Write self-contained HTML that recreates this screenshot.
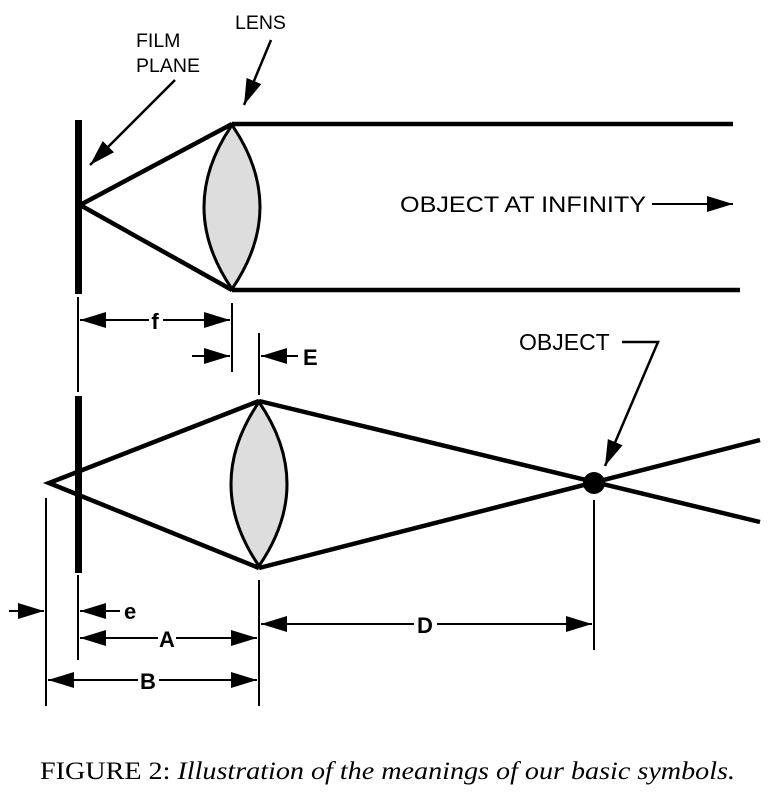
<!DOCTYPE html>
<html><head><style>body{margin:0;background:#fff}svg{display:block}</style></head><body>
<svg width="776" height="793" viewBox="0 0 776 793" xmlns="http://www.w3.org/2000/svg">
<defs>
<marker id="a" markerWidth="28" markerHeight="18" refX="26" refY="8" orient="auto" markerUnits="userSpaceOnUse"><path d="M0,0 L26,8 L0,16Z" fill="#000"/></marker>
</defs>
<g font-family="Liberation Sans, sans-serif" fill="#000">
<!-- top diagram -->
<rect x="75" y="120" width="7" height="174"/>
<g stroke="#000" stroke-width="4.5" fill="none">
<polyline points="232,124 80,205 232,290"/>
<line x1="232" y1="124" x2="733" y2="124"/>
<line x1="232" y1="290" x2="740" y2="290"/>
</g>
<path d="M232,125 Q176,207 232,289 Q288,207 232,125Z" fill="#ddd" stroke="#000" stroke-width="3"/>
<text x="136" y="47" font-size="19.5">FILM</text>
<text x="136" y="72" font-size="19.5">PLANE</text>
<text x="235" y="29" font-size="19.5">LENS</text>
<text x="400" y="212" font-size="22" textLength="246" lengthAdjust="spacingAndGlyphs">OBJECT AT INFINITY</text>
<g stroke="#000" stroke-width="2" fill="none">
<line x1="175" y1="80" x2="90" y2="165" marker-end="url(#a)" stroke-width="2.5"/>
<line x1="271" y1="40" x2="244" y2="105" marker-end="url(#a)" stroke-width="2.5"/>
<line x1="652" y1="204" x2="733" y2="204" marker-end="url(#a)"/>
<!-- f -->
<line x1="78" y1="297" x2="78" y2="392"/>
<line x1="232" y1="303" x2="232" y2="372"/>
<line x1="149" y1="320" x2="80" y2="320" marker-end="url(#a)"/>
<line x1="163" y1="320" x2="230" y2="320" marker-end="url(#a)"/>
<!-- E -->
<line x1="192" y1="356" x2="230" y2="356" marker-end="url(#a)"/>
<line x1="259" y1="333" x2="259" y2="395"/>
<line x1="298" y1="356" x2="261" y2="356" marker-end="url(#a)"/>
</g>
<text x="155" y="329" font-size="22" font-weight="bold" text-anchor="middle">f</text>
<text x="303" y="365" font-size="22" font-weight="bold">E</text>
<!-- bottom diagram -->
<rect x="75" y="396" width="7" height="177"/>
<g stroke="#000" stroke-width="4.5" fill="none">
<polyline points="259,401 49,483 259,568"/>
<line x1="259" y1="401" x2="760" y2="522"/>
<line x1="259" y1="568" x2="760" y2="440"/>
</g>
<path d="M259,402 Q203,484 259,566 Q315,484 259,402Z" fill="#ddd" stroke="#000" stroke-width="3"/>
<circle cx="594" cy="483" r="11"/>
<text x="519" y="350" font-size="23">OBJECT</text>
<g stroke="#000" stroke-width="2" fill="none">
<polyline points="622,342 658,342 605,466" marker-end="url(#a)" stroke-width="2.5"/>
<line x1="46" y1="498" x2="46" y2="706"/>
<line x1="78" y1="575" x2="78" y2="660"/>
<line x1="259" y1="580" x2="259" y2="706"/>
<line x1="594" y1="500" x2="594" y2="650"/>
<line x1="9" y1="611" x2="44" y2="611" marker-end="url(#a)"/>
<line x1="120" y1="611" x2="80" y2="611" marker-end="url(#a)"/>
<line x1="158" y1="638" x2="80" y2="638" marker-end="url(#a)"/>
<line x1="176" y1="638" x2="257" y2="638" marker-end="url(#a)"/>
<line x1="414" y1="624" x2="261" y2="624" marker-end="url(#a)"/>
<line x1="437" y1="624" x2="592" y2="624" marker-end="url(#a)"/>
<line x1="138" y1="680" x2="48" y2="680" marker-end="url(#a)"/>
<line x1="159" y1="680" x2="257" y2="680" marker-end="url(#a)"/>
</g>
<text x="124" y="619" font-size="22" font-weight="bold">e</text>
<text x="167" y="647" font-size="22" font-weight="bold" text-anchor="middle">A</text>
<text x="425" y="633" font-size="22" font-weight="bold" text-anchor="middle">D</text>
<text x="148" y="689" font-size="22" font-weight="bold" text-anchor="middle">B</text>
</g>
<text x="40" y="779" font-family="Liberation Serif, serif" font-size="25" textLength="695" lengthAdjust="spacingAndGlyphs">FIGURE 2: <tspan font-style="italic">Illustration of the meanings of our basic symbols.</tspan></text>
</svg>
</body></html>
